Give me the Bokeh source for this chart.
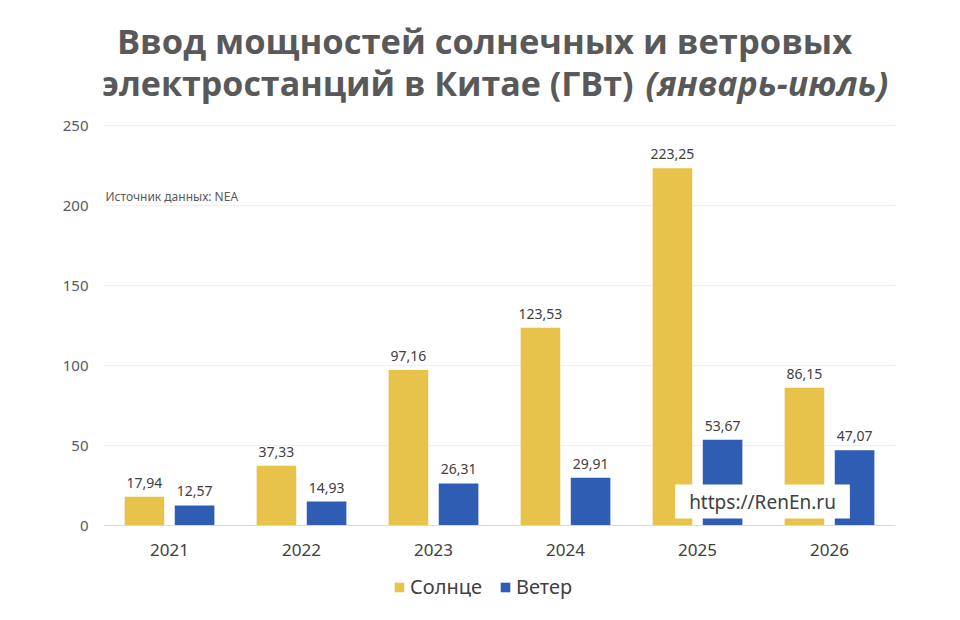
from bokeh.plotting import figure
from bokeh.models import ColumnDataSource, Label, Legend, LegendItem, FixedTicker
from bokeh.transform import dodge
from bokeh.core.properties import value
from bokeh.embed import file_html
from bokeh.resources import INLINE

years = ["2021", "2022", "2023", "2024", "2025", "2026"]
solar = [17.94, 37.33, 97.16, 123.53, 223.25, 86.15]
wind = [12.57, 14.93, 26.31, 29.91, 53.67, 47.07]
y_ticks = [0, 50, 100, 150, 200, 250]
series_names = ["Солнце", "Ветер"]
title_line1 = "Ввод мощностей солнечных и ветровых"
title_line2a = "электростанций в Китае (ГВт)"
title_line2b = "(январь-июль)"
source_note = "Источник данных: NEA"
watermark = "https://RenEn.ru"

def fmt(v):
    return f"{v:.2f}".replace(".", ",")

src = ColumnDataSource(dict(
    years=years, solar=solar, wind=wind,
    solar_lbl=[fmt(v) for v in solar],
    wind_lbl=[fmt(v) for v in wind],
))

FONT = "Noto Sans"
TITLE_FONT = "Open Sans"

# The frame covers the whole canvas height so the title and legend can be
# drawn inside it; the value axis shows 0..250 at 1.6 px per unit with 0 at
# 525 px from the top; the category axis is pinned to y = 0.
H = 604
PX = 1.6
Y_TOP = 250 + 125 / PX
Y_BOT = -(H - 525) / PX

p = figure(x_range=years, y_range=(Y_BOT, Y_TOP), width=944, height=H,
           frame_width=792, frame_height=H,
           output_backend="svg", toolbar_location=None,
           min_border_left=103, min_border_right=49,
           min_border_top=0, min_border_bottom=0)
p.x_range.range_padding = 0
p.outline_line_color = None
p.background_fill_color = "white"

r_sun = p.vbar(x=dodge("years", -0.19, range=p.x_range), top="solar", width=0.3,
               source=src, fill_color="#e7c34b", line_color=None)
r_wind = p.vbar(x=dodge("years", 0.19, range=p.x_range), top="wind", width=0.3,
                source=src, fill_color="#2f5db4", line_color=None)

lbl_kw = dict(text_align="center", text_baseline="bottom", y_offset=-9,
              text_font_size="14px", text_color="#404040", text_font=value(FONT))
p.text(x=dodge("years", -0.19, range=p.x_range), y="solar", text="solar_lbl", source=src, **lbl_kw)
p.text(x=dodge("years", 0.19, range=p.x_range), y="wind", text="wind_lbl", source=src, **lbl_kw)

p.yaxis.ticker = FixedTicker(ticks=y_ticks)
p.yaxis.axis_line_color = None
p.yaxis.major_tick_line_color = None
p.yaxis.minor_tick_line_color = None
p.yaxis.major_label_text_font = FONT
p.yaxis.major_label_text_font_size = "15px"
p.yaxis.major_label_text_color = "#595959"
p.yaxis.major_label_standoff = 9

p.xaxis.fixed_location = 0
p.xaxis.axis_line_color = "#d9d9d9"
p.xaxis.major_tick_line_color = None
p.xaxis.minor_tick_line_color = None
p.xaxis.major_label_text_font = FONT
p.xaxis.major_label_text_font_size = "17px"
p.xaxis.major_label_text_color = "#404040"
p.xaxis.major_label_standoff = 12

p.xgrid.grid_line_color = None
p.ygrid.grid_line_color = "#efefef"
p.ygrid.ticker = FixedTicker(ticks=y_ticks)

# title (two lines, second with italic tail); screen y counted from canvas bottom
tkw = dict(x_units="screen", y_units="screen", text_font=TITLE_FONT,
           text_color="#595959", text_baseline="middle")
p.add_layout(Label(x=381, y=H - 40, text=title_line1, text_align="center",
                   text_font_style="bold", text_font_size="34.5px", **tkw))
p.add_layout(Label(x=530, y=H - 82, text=title_line2a, text_align="right",
                   text_font_style="bold", text_font_size="34px", **tkw))
p.add_layout(Label(x=542, y=H - 82, text=title_line2b, text_align="left",
                   text_font_style="bold italic", text_font_size="34px", **tkw))

p.add_layout(Label(x=2, y=H - 196, x_units="screen", y_units="screen",
                   text=source_note, text_align="left", text_baseline="middle",
                   text_font=FONT, text_font_size="12px", text_color="#595959"))

p.add_layout(Label(x=659, y=H - 501, x_units="screen", y_units="screen",
                   text=watermark, text_align="center", text_baseline="middle",
                   text_font=FONT, text_font_size="19px", text_color="#404040",
                   background_fill_color="white", padding=(14, 4)))

legend = Legend(items=[LegendItem(label=series_names[0], renderers=[r_sun]),
                       LegendItem(label=series_names[1], renderers=[r_wind])],
                orientation="horizontal", location=(290, 4),
                label_text_font=FONT, label_text_font_size="20px",
                label_text_color="#404040", glyph_width=12, glyph_height=12,
                border_line_color=None, background_fill_alpha=0,
                spacing=17, label_standoff=5, margin=0, padding=4)
p.add_layout(legend, "center")

open("out.html", "w").write(file_html(p, INLINE))
